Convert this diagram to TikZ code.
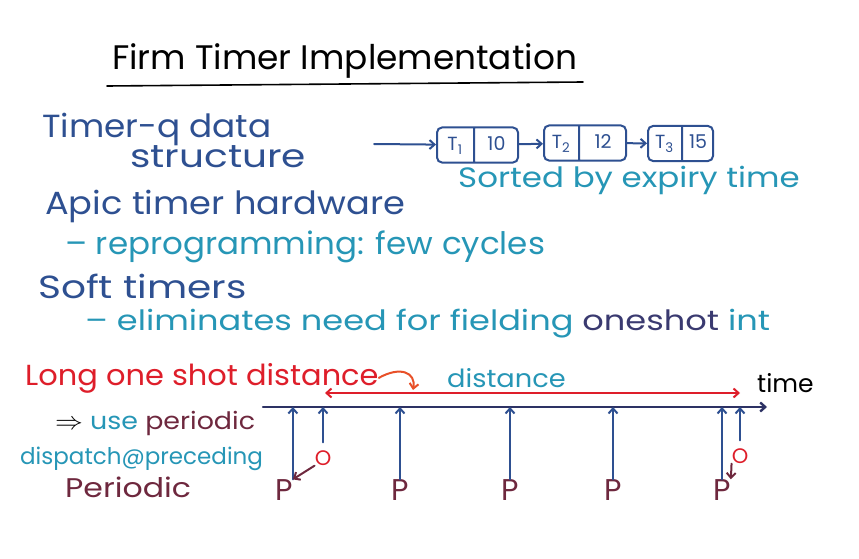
\documentclass[tikz,border=0pt]{standalone}
\usepackage{fontspec}
\setmainfont{Poppins}
\usepackage{tikz}
\usetikzlibrary{arrows.meta,shapes.multipart}

\definecolor{inkblue}{RGB}{46,80,145}
\definecolor{inkteal}{RGB}{38,150,182}
\definecolor{inkred}{RGB}{222,30,42}
\definecolor{inkorange}{RGB}{232,80,40}
\definecolor{inkmaroon}{RGB}{110,40,62}
\definecolor{inknavy}{RGB}{45,50,100}
\definecolor{inkshot}{RGB}{58,58,112}

\newcommand{\hw}[1]{\fontsize{#1}{#1}\selectfont}
\newcommand{\sx}[2]{\scalebox{#1}[1]{#2}}
\newcommand{\cell}[2]{\makebox[#1pt]{\rule[-12pt]{0pt}{35pt}#2}}

\begin{document}
\begin{tikzpicture}[x=1pt,y=-1pt,
  pen/.style={line width=2pt,line cap=round},
  tip/.style={-{Straight Barb[length=5pt,width=9pt]}},
  note/.style={anchor=base west,inner sep=0pt},
  qbox/.style={draw=inkblue,line width=2pt,rounded corners=5pt,
    rectangle split,rectangle split horizontal,rectangle split parts=2,
    inner sep=0pt,anchor=west,text=inkblue,font=\hw{19}},
  tick/.style={pen,tip,inkblue},
  pmark/.style={text=inkmaroon,font=\hw{30},inner sep=0pt},
  omark/.style={text=inkred,font=\hw{21},inner sep=0pt}]

  \useasboundingbox (0,0) rectangle (859,559);

  % title
  \node[note,font=\hw{34}] (title) at (112,70) {\sx{1.01}{Firm Timer Implementation}};
  \draw[pen,line width=1.6pt] (107,86) -- (583,82);

  % timer queue
  \node[note,text=inkblue,font=\hw{32}] (tq) at (42,138) {\sx{1.07}{Timer-q data}};
  \node[note,text=inkblue,font=\hw{32}] (ds) at (130,167) {\sx{1.22}{structure}};
  \coordinate (qin) at (374,144);
  \node[qbox] (q1) at (436,145) {\cell{36}{T\textsubscript{1}}\nodepart{two}\cell{43}{10}};
  \node[qbox] (q2) at (543,143) {\cell{34}{T\textsubscript{2}}\nodepart{two}\cell{46}{12}};
  \node[qbox] (q3) at (647,143.5) {\cell{33}{T\textsubscript{3}}\nodepart{two}\cell{30}{15}};
  \draw[pen,tip,inkblue] (qin) -- (q1);
  \draw[pen,tip,inkblue] (q1) -- (q2);
  \draw[pen,tip,inkblue] (q2) -- (q3);
  \node[note,text=inkteal,font=\hw{28}] (sorted) at (458,187) {\sx{1.16}{Sorted by expiry time}};

  \node[note,text=inkblue,font=\hw{32}] (apic) at (45,214) {\sx{1.10}{Apic timer hardware}};
  \node[note,text=inkteal,font=\hw{31}] (reprog) at (65,254) {\sx{1.05}{– reprogramming: few cycles}};
  \node[note,text=inkblue,font=\hw{32},text depth=0pt] (soft) at (38,298) {\sx{1.22}{Soft timers}};
  \node[note,text=inkteal,font=\hw{28},text height=0.74em] (elim) at (85,330)
    {\sx{1.2}{– eliminates need for fielding \textcolor{inkshot}{oneshot} int}};

  % one shot timeline
  \node[note,text=inkred,font=\hw{29}] (long) at (25,385) {\sx{1.05}{Long one shot distance}};
  \node[note,text=inkteal,font=\hw{25}] (dist) at (447,387) {\sx{1.09}{distance}};
  \node[note,font=\hw{25}] (time) at (757,392) {time};
  \node[note,font=\hw{24}] (use) at (55,429)
    {\sx{1.12}{\hw{30}$\Rightarrow$\hw{24} \textcolor{inkteal}{use} \textcolor{inkmaroon}{periodic}}};
  \node[note,text=inkteal,font=\hw{23}] (disp) at (20,464) {dispatch@preceding};
  \node[note,text=inkmaroon,font=\hw{27}] (per) at (65,497) {\sx{1.17}{Periodic}};

  \coordinate (t0) at (263,407);
  \coordinate (t1) at (767,407);
  \coordinate (dl) at (325,393);
  \coordinate (dr) at (740,393);
  \draw[pen,line width=2.4pt,inknavy,tip] (t0) -- (t1);
  \draw[pen,inkred,{Straight Barb[length=5pt,width=9pt]}-{Straight Barb[length=5pt,width=9pt]}] (dl) -- (dr);
  \draw[pen,inkorange,tip] (long.east) .. controls (400,366) and (416,372) .. (413,390);

  % periodic ticks
  \node[pmark] (p1) at (284,490) {P};
  \node[pmark] (p2) at (400,490) {P};
  \node[pmark] (p3) at (510,490) {P};
  \node[pmark] (p4) at (613,490) {P};
  \node[pmark] (p5) at (722,490) {P};
  \node[omark] (o1) at (323,458) {O};
  \node[omark] (o2) at (740,456) {O};

  \draw[tick] (p1.north east) -- (p1.north east |- t0);
  \draw[tick] (p2.north) -- (p2.north |- t0);
  \draw[tick] (p3.north) -- (p3.north |- t0);
  \draw[tick] (p4.north) -- (p4.north |- t0);
  \draw[tick] (p5.north) -- (p5.north |- t0);
  \draw[tick,shorten <=8pt] (o1.north) -- (o1.north |- t0);
  \draw[tick,shorten <=8pt] (o2.north) -- (o2.north |- t0);

  \draw[pen,inkmaroon,tip] (o1.south west) -- (p1.north east);
  \draw[pen,inkmaroon,tip] (o2.south west) -- (p5.north east);
\end{tikzpicture}
\end{document}
